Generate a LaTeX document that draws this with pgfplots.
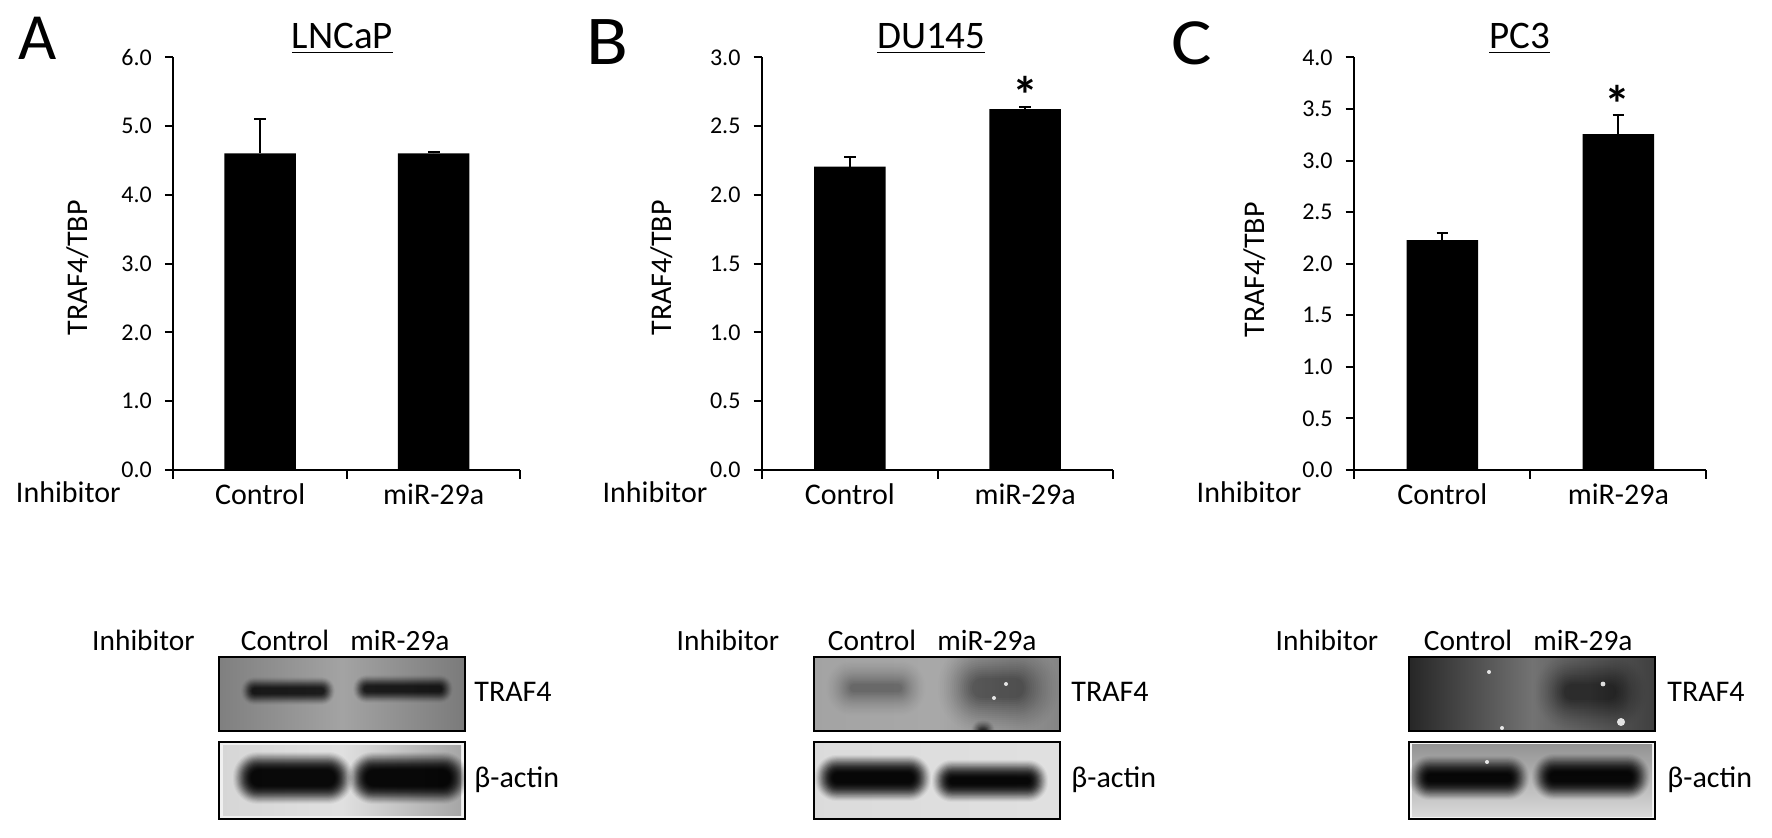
\documentclass[border=0pt]{standalone}
\usepackage{fontspec}
\setmainfont{Carlito}
\usepackage{pgfplots}
\pgfplotsset{compat=1.18}

\pgfplotsset{panel/.style={
  scale only axis, clip=false,
  ybar, bar width=35.75pt,
  ymin=0,
  axis x line*=bottom, axis y line*=left,
  axis line style={-, line width=1.1pt, black},
  xmin=-0.5, xmax=1.5,
  xtick={-0.5,0.5,1.5}, x tick label as interval,
  xticklabels={Control,miR-29a},
  tick align=outside, major tick length=4.3pt,
  tick style={line width=1pt, black},
  xticklabel style={font=\fontsize{15}{17}\selectfont, yshift=1pt},
  yticklabel style={font=\fontsize{12}{14}\selectfont, xshift=-3pt,
    /pgf/number format/.cd, fixed, fixed zerofill, precision=1, assume math mode=true},
  ylabel style={font=\fontsize{15}{17}\selectfont, anchor=center},
  every axis title shift=0pt,
  title style={font=\fontsize{19.5}{22}\selectfont, anchor=base},
  height=206.25pt,
}}
\pgfplotsset{errbar/.style={
  fill=black, draw=none,
  error bars/.cd, y dir=plus, y explicit,
  error bar style={line width=1pt, black},
  error mark options={rotate=90, mark size=2.9pt, line width=1pt, black}
}}

% blurred blot band: centre x, centre y, half width, half height, layer opacity, blur reach
\newcommand{\band}[6]{%
  \foreach \s in {0,...,17}{%
    \pgfmathsetmacro{\ex}{#6*(1-\s/17)}%
    \pgfmathsetmacro{\hw}{#3+\ex}%
    \pgfmathsetmacro{\hh}{#4+\ex}%
    \pgfmathsetmacro{\rr}{0.47*\hh}%
    \pgfmathsetmacro{\op}{#5*(0.25+1.5*\s/17)}%
    \fill[black, opacity=\op, rounded corners=\rr pt]
      ({#1-\hw},{#2-\hh}) rectangle ({#1+\hw},{#2+\hh});
  }}
\newcommand{\speck}[3]{\fill[white, opacity=0.85] (#1,#2) circle (#3);}
\newcommand{\bl}{\fontsize{14.7}{16}\selectfont}

\begin{document}
\begin{tikzpicture}
\begin{scope}[x=0.5pt,y=-0.5pt]
\path[use as bounding box, fill=white] (0,0) rectangle (1772,838);
% panel letters
\node[anchor=center, font=\fontsize{33}{36}\selectfont] at (37.5,38) {A};
\node[anchor=center, font=\fontsize{35}{36}\selectfont, xscale=1.1] at (607,42) {B};
\node[anchor=center, font=\fontsize{33}{36}\selectfont, xscale=1.15] at (1192,43) {C};
\end{scope}

% bar charts
\begin{axis}[panel, at={(86.7pt,-235pt)}, anchor=south west, width=173.55pt,
  ymax=6, ytick={0,1,2,3,4,5,6},
  ylabel={TRAF4/TBP}, ylabel style={at={(axis description cs:-0.276,0.49)}},
  title={\underline{LNCaP}}, title style={at={(axis description cs:0.487,1.0206)}}]
\addplot[errbar] coordinates {(0,4.607) +- (0,0.493) (1,4.607) +- (0,0.025)};
\end{axis}

\begin{axis}[panel, at={(381.05pt,-235pt)}, anchor=south west, width=175.4pt,
  ymax=3, ytick={0,0.5,1,1.5,2,2.5,3},
  ylabel={TRAF4/TBP}, ylabel style={at={(axis description cs:-0.285,0.49)}},
  title={\underline{DU145}}, title style={at={(axis description cs:0.482,1.0206)}}]
\addplot[errbar] coordinates {(0,2.206) +- (0,0.071) (1,2.625) +- (0,0.012)};
\node[font=\bfseries\fontsize{26}{28}\selectfont] at (axis cs:1.0,2.725) {*};
\end{axis}

\begin{axis}[panel, at={(677.15pt,-235pt)}, anchor=south west, width=176.05pt,
  ymax=4, ytick={0,0.5,1,1.5,2,2.5,3,3.5,4},
  ylabel={TRAF4/TBP}, ylabel style={at={(axis description cs:-0.282,0.485)}},
  title={\underline{PC3}}, title style={at={(axis description cs:0.47,1.0206)}}]
\addplot[errbar] coordinates {(0,2.23) +- (0,0.068) (1,3.258) +- (0,0.184)};
\node[font=\bfseries\fontsize{26}{28}\selectfont] at (axis cs:0.993,3.55) {*};
\end{axis}

\begin{scope}[x=0.5pt,y=-0.5pt]
\node[font=\fontsize{15}{17}\selectfont] at (68.3,492) {Inhibitor};
\node[font=\fontsize{15}{17}\selectfont] at (655,492) {Inhibitor};
\node[font=\fontsize{15}{17}\selectfont] at (1249,492) {Inhibitor};

% --- blot A
\begin{scope}
\clip (219,657) rectangle (465,731);
\fill[left color=black!50, right color=black!52, middle color=black!36] (219,657) rectangle (465,731);
\band{288}{691}{36}{3}{0.085}{11}
\band{403}{689}{39}{3}{0.085}{11}
\end{scope}
\draw[line width=1pt] (219,657) rectangle (465,731);
\begin{scope}
\clip (219,742) rectangle (465,819);
\fill[black!6] (219,742) rectangle (465,819);
\fill[left color=black!16, right color=black!35, middle color=black!12] (223,746) rectangle (461,815);
\band{293}{778}{42}{8}{0.15}{18}
\band{408}{778}{42}{8}{0.15}{18}
\end{scope}
\draw[line width=1pt] (219,742) rectangle (465,819);

% --- blot B
\begin{scope}
\clip (814,657) rectangle (1060,731);
\fill[left color=black!36, right color=black!48, middle color=black!34] (814,657) rectangle (1060,731);
\band{876}{688}{26}{4}{0.022}{24}
\band{998}{688}{26}{10}{0.028}{34}
\band{983}{731}{2}{1}{0.07}{10}
\speck{1006}{684}{1pt}
\speck{994}{698}{1pt}
\end{scope}
\draw[line width=1pt] (814,657) rectangle (1060,731);
\begin{scope}
\clip (814,742) rectangle (1060,819);
\fill[left color=black!14, right color=black!12] (814,742) rectangle (1060,819);
\band{873}{778}{40}{5}{0.16}{18}
\band{990}{781}{40}{3}{0.16}{18}
\end{scope}
\draw[line width=1pt] (814,742) rectangle (1060,819);

% --- blot C
\begin{scope}
\clip (1409,657) rectangle (1655,731);
\fill[left color=black!85, right color=black!75, middle color=black!55] (1409,657) rectangle (1655,731);
\band{1590}{692}{26}{8}{0.035}{30}
\speck{1489}{672}{1pt}
\speck{1603}{684}{1.2pt}
\speck{1621}{722}{2pt}
\speck{1502}{728}{1pt}
\end{scope}
\draw[line width=1pt] (1409,657) rectangle (1655,731);
\begin{scope}
\clip (1409,742) rectangle (1655,819);
\fill[black!4] (1409,742) rectangle (1655,819);
\fill[top color=black!42, bottom color=black!15] (1412,745) rectangle (1652,816);
\band{1469}{778}{42}{4}{0.15}{18}
\band{1591}{777}{41}{5}{0.15}{18}
\speck{1487}{762}{1pt}
\end{scope}
\draw[line width=1pt] (1409,742) rectangle (1655,819);

% blot labels
\foreach \xi/\xc/\xm/\xl in {143.5/285/400/474, 728/872/987/1071, 1327/1468/1583/1667}{
  \node[font=\bl] at (\xi,640) {Inhibitor};
  \node[font=\bl] at (\xc,640) {Control};
  \node[font=\bl] at (\xm,640) {miR-29a};
  \node[font=\fontsize{15}{17}\selectfont, anchor=west, inner sep=0pt] at (\xl,692) {TRAF4};
  \node[font=\fontsize{15}{17}\selectfont, anchor=west, inner sep=0pt] at (\xl,780) {β-actin};
}
\end{scope}
\end{tikzpicture}
\end{document}
